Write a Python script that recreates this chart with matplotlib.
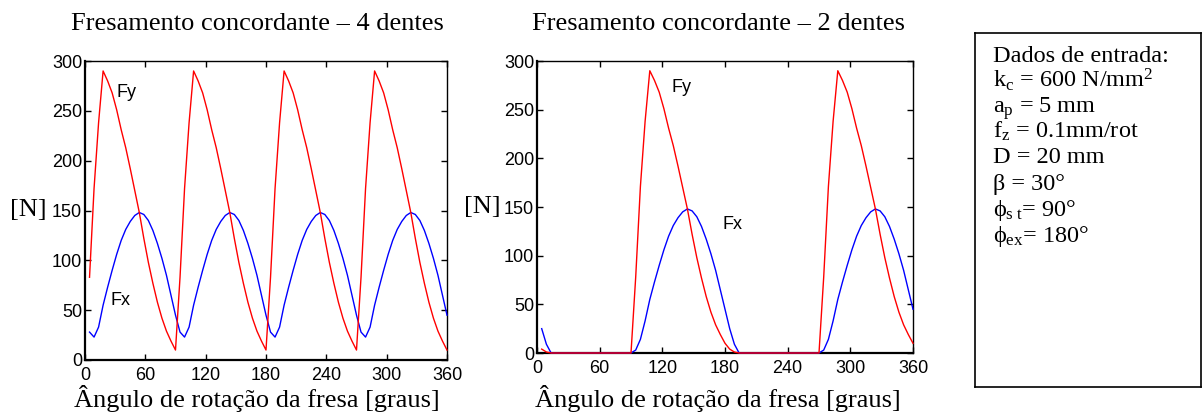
import matplotlib
matplotlib.use("Agg")
from matplotlib import pyplot as plt
import numpy as np

plt.rcParams['font.family'] = ['Liberation Sans', 'DejaVu Sans']
plt.rcParams['mathtext.fontset'] = 'custom'
plt.rcParams['mathtext.rm'] = 'Liberation Serif'
plt.rcParams['mathtext.it'] = 'Liberation Serif:italic'

# rotation angle samples [graus]
angle = np.arange(1, 81) * 4.5

# 4 dentes
fy4 = [83, 172, 238, 290, 280, 268, 251, 231, 213, 192, 170, 148, 122, 98, 77, 58, 42, 29, 19, 10,
       83, 172, 238, 290, 280, 268, 251, 231, 213, 192, 170, 148, 122, 98, 77, 58, 42, 29, 19, 10,
       83, 172, 238, 290, 280, 268, 251, 231, 213, 192, 170, 148, 122, 98, 77, 58, 42, 29, 19, 10,
       83, 172, 238, 290, 280, 268, 251, 231, 213, 192, 170, 148, 122, 98, 77, 58, 42, 29, 19, 10]
fx4 = [28, 23, 33, 55, 73, 90, 106, 120, 131, 139, 145, 148, 146, 140, 130, 117, 102, 85, 65, 45,
       28, 23, 33, 55, 73, 90, 106, 120, 131, 139, 145, 148, 146, 140, 130, 117, 102, 85, 65, 45,
       28, 23, 33, 55, 73, 90, 106, 120, 131, 139, 145, 148, 146, 140, 130, 117, 102, 85, 65, 45,
       28, 23, 33, 55, 73, 90, 106, 120, 131, 139, 145, 148, 146, 140, 130, 117, 102, 85, 65, 45]

# 2 dentes
fy2 = [4, 1, 0, 0, 0, 0, 0, 0, 0, 0, 0, 0, 0, 0, 0, 0, 0, 0, 0, 0,
       78, 171, 238, 290, 280, 268, 251, 231, 213, 192, 170, 148, 122, 98, 77, 58, 42, 29, 19, 10,
       4, 1, 0, 0, 0, 0, 0, 0, 0, 0, 0, 0, 0, 0, 0, 0, 0, 0, 0, 0,
       78, 171, 238, 290, 280, 268, 251, 231, 213, 192, 170, 148, 122, 98, 77, 58, 42, 29, 19, 10]
fx2 = [25, 9, 0, 0, 0, 0, 0, 0, 0, 0, 0, 0, 0, 0, 0, 0, 0, 0, 0, 0,
       3, 14, 33, 55, 73, 90, 106, 120, 131, 139, 145, 148, 146, 140, 130, 117, 102, 85, 65, 45,
       25, 9, 0, 0, 0, 0, 0, 0, 0, 0, 0, 0, 0, 0, 0, 0, 0, 0, 0, 0,
       3, 14, 33, 55, 73, 90, 106, 120, 131, 139, 145, 148, 146, 140, 130, 117, 102, 85, 65, 45]

xticks = [0, 60, 120, 180, 240, 300, 360]
yticks = [0, 50, 100, 150, 200, 250, 300]

titles = ["Fresamento concordante \u2013 4 dentes", "Fresamento concordante \u2013 2 dentes"]
xlabel = "\u00c2ngulo de rota\u00e7\u00e3o da fresa [graus]"
ylabel = "[N]"

PHI = "\u03d5"
DEG = "\u00b0"
info = ["Dados de entrada:",
        r"k$_\mathrm{c}$ = 600 N/mm$^\mathrm{2}$",
        r"a$_\mathrm{p}$ = 5 mm",
        r"f$_\mathrm{z}$ = 0.1mm/rot",
        "D = 20 mm",
        "\u03b2 = 30" + DEG,
        PHI + r"$_\mathrm{s\ t}$= 90" + DEG,
        PHI + r"$_\mathrm{ex}$= 180" + DEG]

serif = ['Liberation Serif', 'DejaVu Serif']
W, H = 1202, 418
fig = plt.figure(figsize=(W / 100, H / 100), dpi=100)


def make_axes(box, fy, fx, title, title_x, fy_pos, fx_pos, ylab_x):
    l, t, r, b = box
    ax = fig.add_axes([l / W, 1 - b / H, (r - l) / W, (b - t) / H])
    ax.plot(angle, fx, color=(0, 0, 1), lw=1.0, zorder=3, clip_on=False)
    ax.plot(angle, fy, color=(1, 0, 0), lw=1.0, zorder=3, clip_on=False)
    ax.set_xlim(0, 360)
    ax.set_ylim(0, 300)
    ax.set_xticks(xticks)
    ax.set_yticks(yticks)
    ax.tick_params(direction='in', length=4, width=1, top=True, right=True, labelsize=13)
    ax.tick_params(axis='x', pad=5)
    ax.tick_params(axis='y', pad=2)
    for s in ['left', 'bottom']:
        ax.spines[s].set_linewidth(1.6)
    for s in ['top', 'right']:
        ax.spines[s].set_linewidth(1.0)
    ax.text(fy_pos[0], fy_pos[1], "Fy", fontsize=13, ha='left', va='center')
    ax.text(fx_pos[0], fx_pos[1], "Fx", fontsize=13, ha='left', va='center')
    fig.text(title_x / W, 1 - 30 / H, title, family=serif, fontsize=19, ha='center', va='baseline')
    fig.text(title_x / W, 1 - 407 / H, xlabel, family=serif, fontsize=19, ha='center', va='baseline')
    fig.text(ylab_x / W, 1 - ((t + b) / 2) / H, ylabel, family=serif, fontsize=19, ha='center', va='center')
    return ax


make_axes((85, 61, 447, 360), fy4, fx4, titles[0], 257, (31, 268), (25, 60), 28)
make_axes((537, 61, 913, 353), fy2, fx2, titles[1], 718, (129, 273), (178, 132), 482)

# input data box
bx = fig.add_axes([975 / W, 1 - 387 / H, (1201 - 975) / W, (387 - 33) / H])
bx.set_xticks([])
bx.set_yticks([])
for s in bx.spines.values():
    s.set_linewidth(1.2)

baselines = [62, 87, 113, 138, 163, 190, 216, 242]
for line, yb in zip(info, baselines):
    fig.text(993 / W, 1 - yb / H, line, family=serif, fontsize=17.5, ha='left', va='baseline')

fig.savefig("out.png", dpi=100)
